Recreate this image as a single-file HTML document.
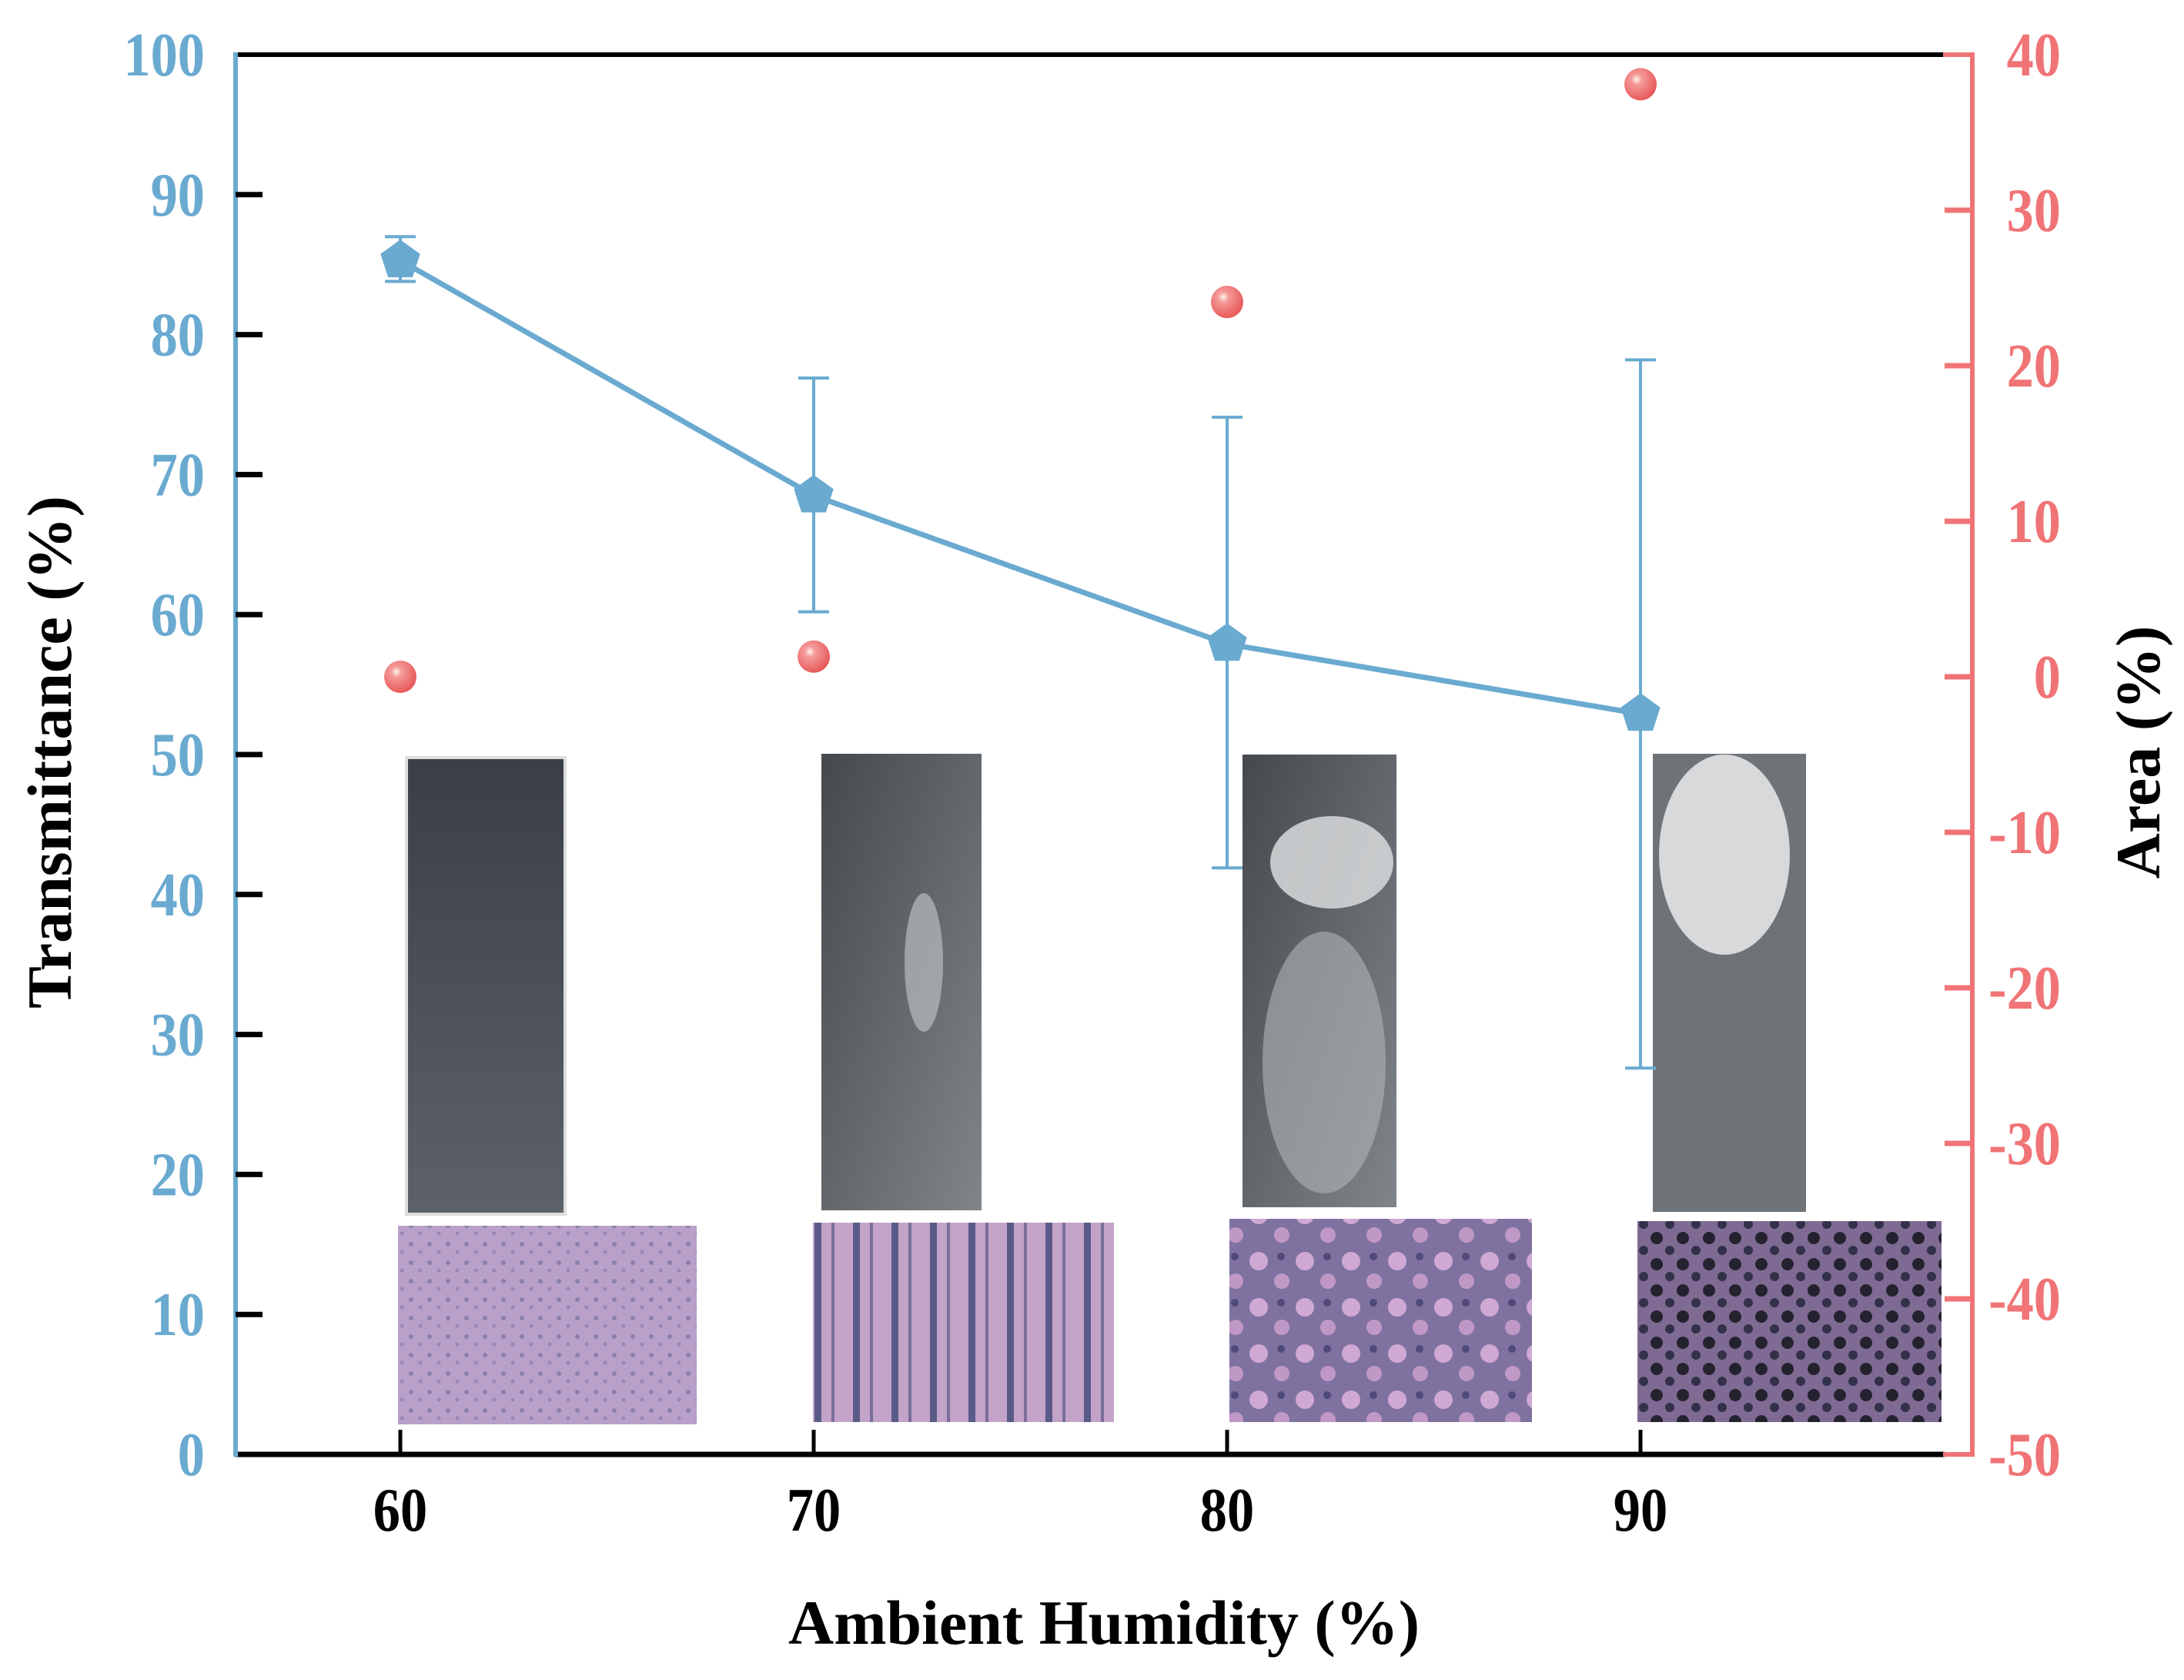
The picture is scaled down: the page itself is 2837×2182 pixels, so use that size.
<!DOCTYPE html>
<html><head><meta charset="utf-8"><style>
html,body{margin:0;padding:0;background:#fff}
svg{display:block}
text{font-family:"Liberation Serif",serif;font-weight:bold}
</style></head><body>
<svg id="chart" width="2837" height="2182" viewBox="0 0 2837 2182" xmlns="http://www.w3.org/2000/svg">
<defs>
<radialGradient id="sph" cx="0.38" cy="0.35" r="0.65">
<stop offset="0" stop-color="#fff6e8"/><stop offset="0.25" stop-color="#f59a9a"/><stop offset="1" stop-color="#e85a5a"/>
</radialGradient>
<linearGradient id="strip1" x1="0" y1="0" x2="0" y2="1"><stop offset="0" stop-color="#3a3f45"/><stop offset="1" stop-color="#5c6268"/></linearGradient>
<linearGradient id="strip2" x1="0" y1="0" x2="1" y2="1"><stop offset="0" stop-color="#45494e"/><stop offset="1" stop-color="#80858a"/></linearGradient>
<pattern id="dots" width="34" height="34" patternUnits="userSpaceOnUse">
<rect width="34" height="34" fill="#7e6a92"/><circle cx="10" cy="10" r="8" fill="#24222f"/><circle cx="27" cy="26" r="6" fill="#33304a"/>
</pattern>
<pattern id="blot" width="60" height="60" patternUnits="userSpaceOnUse">
<rect width="60" height="60" fill="#7f72a0"/><circle cx="15" cy="18" r="12" fill="#d0a8d4"/><circle cx="45" cy="44" r="10" fill="#c098c6"/><circle cx="44" cy="12" r="5" fill="#4f4a78"/>
</pattern>
<pattern id="streak" width="50" height="60" patternUnits="userSpaceOnUse">
<rect width="50" height="60" fill="#c3a3c8"/><rect x="8" width="9" height="60" fill="#5a5a88"/><rect x="30" width="4" height="60" fill="#7a6f9c"/>
</pattern>
<pattern id="speck" width="24" height="24" patternUnits="userSpaceOnUse">
<rect width="24" height="24" fill="#b8a0c8"/><circle cx="6" cy="8" r="3" fill="#8a80aa"/><circle cx="18" cy="18" r="2.5" fill="#9588b4"/>
</pattern>
</defs>

<g id="photos">
<rect x="528" y="984" width="206" height="593" fill="url(#strip1)" stroke="#ddd" stroke-width="4"/>
<rect x="1067" y="979" width="208" height="593" fill="url(#strip2)"/>
<ellipse cx="1200" cy="1250" rx="25" ry="90" fill="#b8bcc0" opacity="0.7"/>
<rect x="1614" y="980" width="200" height="588" fill="url(#strip2)"/>
<ellipse cx="1730" cy="1120" rx="80" ry="60" fill="#d8dadc" opacity="0.85"/>
<ellipse cx="1720" cy="1380" rx="80" ry="170" fill="#b0b4b8" opacity="0.6"/>
<rect x="2147" y="979" width="199" height="595" fill="#6e7378"/>
<ellipse cx="2240" cy="1110" rx="85" ry="130" fill="#e2e4e6" opacity="0.9"/>
<rect x="517" y="1592" width="388" height="258" fill="url(#speck)"/>
<rect x="1056" y="1588" width="391" height="259" fill="url(#streak)"/>
<rect x="1597" y="1583" width="393" height="264" fill="url(#blot)"/>
<rect x="2127" y="1586" width="395" height="261" fill="url(#dots)"/>
</g>

<g id="axes"></g>
<g id="marks"></g>

<text x="0" y="0" transform="translate(92,977) rotate(-90)" text-anchor="middle" font-size="82" fill="#000">Transmittance (%)</text>
<text x="0" y="0" transform="translate(2805,977) rotate(-90)" text-anchor="middle" font-size="82" fill="#000">Area (%)</text>
<text x="1434" y="2135" text-anchor="middle" font-size="82" fill="#000">Ambient Humidity (%)</text>
</svg>
<script>
const categories = [60, 70, 80, 90];
const transmittance = [85.3, 68.5, 57.9, 52.9];
const transErrLow = [83.8, 60.2, 41.9, 27.6];
const transErrHigh = [87.0, 76.9, 74.1, 78.2];
const areaValues = [0.0, 1.3, 24.1, 38.1];
const xTicks = [60, 70, 80, 90];
const leftTicks = [0, 10, 20, 30, 40, 50, 60, 70, 80, 90, 100];
const rightTicks = [-50, -40, -30, -20, -10, 0, 10, 20, 30, 40];

const NS = 'http://www.w3.org/2000/svg';
const X0 = 306, X1 = 2562, YT = 71, YB = 1889;
const BLUE = '#6aaad0', RED = '#f07476';
function xS(v){ return 520 + (v - 60) * 53.7; }
function yL(v){ return YB - (v / 100) * (YB - YT); }
function yR(v){ return YB - ((v + 50) / 90) * (YB - YT); }
function mk(tag, attrs, parent){ const e = document.createElementNS(NS, tag); for (const k in attrs) e.setAttribute(k, attrs[k]); parent.appendChild(e); return e; }

const axes = document.getElementById('axes');
const marks = document.getElementById('marks');

let e;
e = mk('line', {x1: X0, y1: YT, x2: 2526, y2: YT, stroke: '#000', 'stroke-width': 6}, axes);


e = mk('line', {x1: X0, y1: YB, x2: 2526, y2: YB, stroke: '#000', 'stroke-width': 7}, axes);


e = mk('line', {x1: X0, y1: YT - 3, x2: X0, y2: YB + 3, stroke: BLUE, 'stroke-width': 6}, axes);


e = mk('polyline', {points: `2524,${YT} ${X1},${YT} ${X1},${YB} 2524,${YB}`, fill: 'none', stroke: RED, 'stroke-width': 6}, axes);



function label(x, y, txt, anchor, color){
  const g = mk('g', {transform: `translate(${x},${y}) scale(0.88,1)`}, axes);
  const l = mk('text', {x: 0, y: 0, 'text-anchor': anchor, 'font-size': 80, fill: color}, g);
  l.textContent = txt;
  return l;
}
xTicks.forEach(v => {
  const t = mk('line', {x1: xS(v), y1: YB, x2: xS(v), y2: YB - 32, stroke: '#000', 'stroke-width': 5}, axes);
  
  
  const l = label(xS(v), 1988, v, 'middle', '#000');
  
  
});
leftTicks.forEach(v => {
  if (v > 0 && v < 100) {
    const t = mk('line', {x1: X0, y1: yL(v), x2: X0 + 35, y2: yL(v), stroke: '#000', 'stroke-width': 7}, axes);
    
    
  }
  const l = label(266, yL(v) + 27, v, 'end', BLUE);
  
  
});
rightTicks.forEach(v => {
  if (v > -50 && v < 40) {
    const t = mk('line', {x1: X1, y1: yR(v), x2: X1 - 36, y2: yR(v), stroke: RED, 'stroke-width': 7}, axes);
    
    
  }
  const l = label(2677, yR(v) + 27, v, 'end', RED);
  
  
});

categories.forEach((c, i) => {
  const x = xS(c);
  const g = mk('g', {stroke: BLUE, 'stroke-width': 4}, marks);
  
  
  mk('line', {x1: x, y1: yL(transErrLow[i]), x2: x, y2: yL(transErrHigh[i])}, g);
  mk('line', {x1: x - 20, y1: yL(transErrLow[i]), x2: x + 20, y2: yL(transErrLow[i])}, g);
  mk('line', {x1: x - 20, y1: yL(transErrHigh[i]), x2: x + 20, y2: yL(transErrHigh[i])}, g);
});
const pts = categories.map((c, i) => xS(c) + ',' + yL(transmittance[i])).join(' ');
e = mk('polyline', {points: pts, fill: 'none', stroke: BLUE, 'stroke-width': 7}, marks);


categories.forEach((c, i) => {
  const cx = xS(c), cy = yL(transmittance[i]), r = 27;
  const p = [];
  for (let k = 0; k < 5; k++) { const a = -Math.PI / 2 + k * 2 * Math.PI / 5; p.push((cx + r * Math.cos(a)).toFixed(1) + ',' + (cy + r * Math.sin(a)).toFixed(1)); }
  const m = mk('polygon', {points: p.join(' '), fill: BLUE}, marks);
  
  
});
categories.forEach((c, i) => {
  const m = mk('circle', {cx: xS(c), cy: yR(areaValues[i]), r: 21, fill: 'url(#sph)'}, marks);
  
  
});
</script>
</body></html>
